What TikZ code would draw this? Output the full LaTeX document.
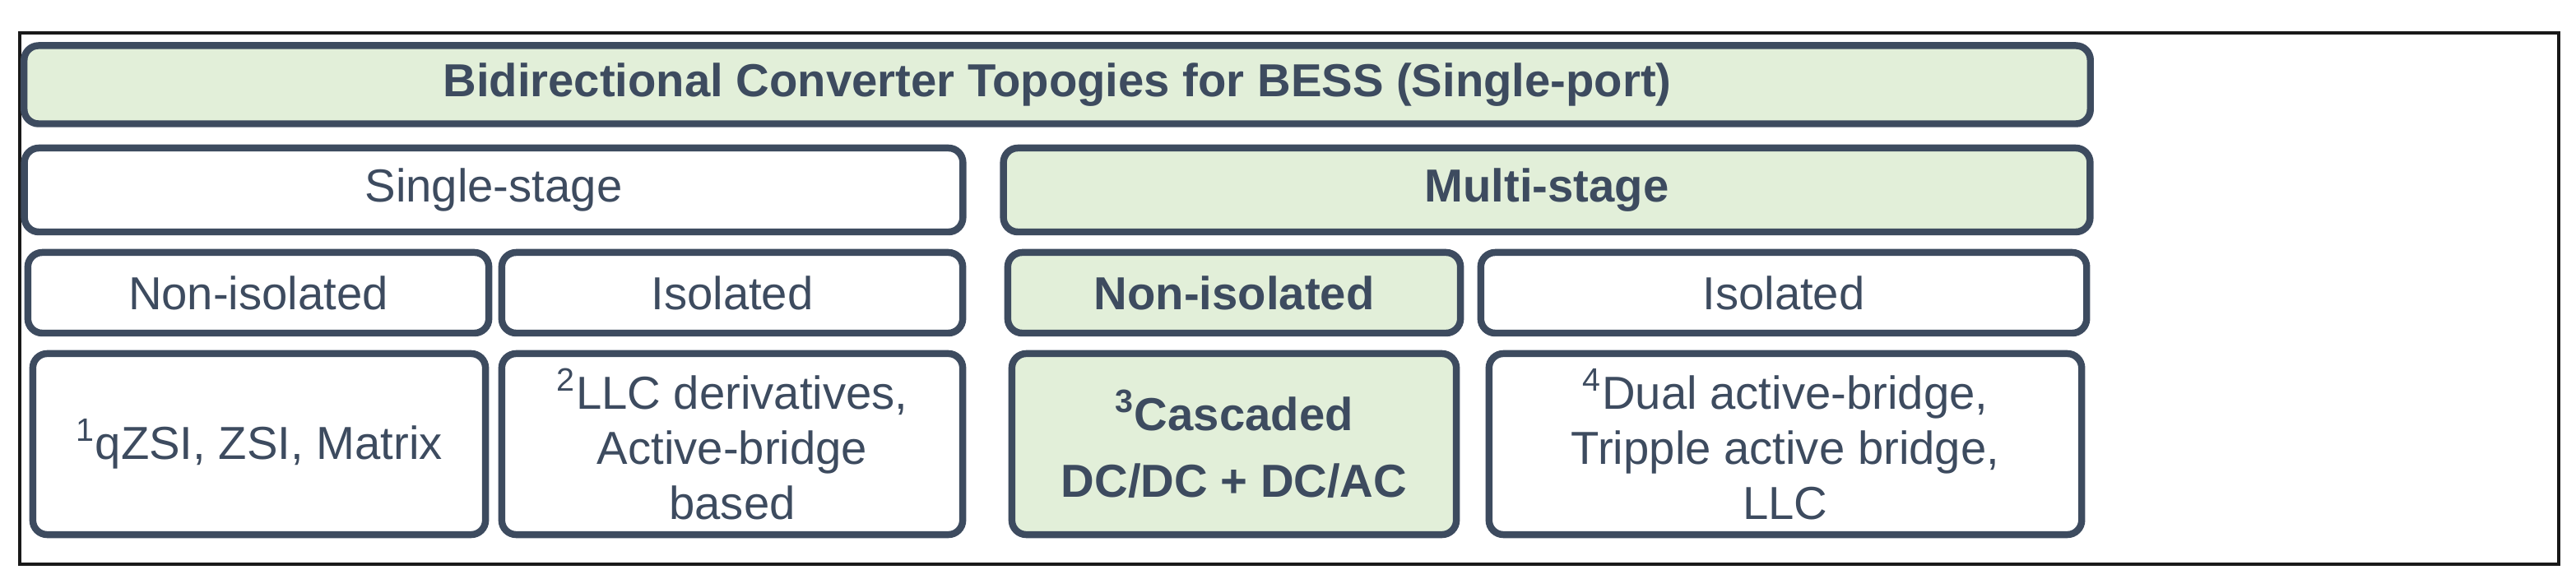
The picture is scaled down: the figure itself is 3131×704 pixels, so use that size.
\documentclass[tikz,border=0pt]{standalone}
\usepackage{fontspec}
\setmainfont{Liberation Sans}
\usetikzlibrary{positioning}
\definecolor{slate}{HTML}{3D4B5F}
\definecolor{sage}{HTML}{E2EFD9}
\begin{document}
\begin{tikzpicture}[x=0.01cm,y=-0.01cm,
        cell/.style={
            rectangle, rounded corners=5pt, draw=slate, line width=2.4pt,
            fill=white, text=slate, font=\fontsize{16}{19}\selectfont,
            align=center, inner sep=0pt
        },
        hcell/.style={cell, fill=sage, font=\fontsize{16}{19}\selectfont\bfseries},
    ]

    % ── Frame ──
    \useasboundingbox (0,0) rectangle (3131,704);
    \draw[line width=1.3pt, black!90] (24,40) rectangle (3110,686);

    % ── Title ──
    \node[hcell, minimum width=25.1cm, minimum height=0.95cm] (title) at (1285,103)
        {Bidirectional Converter Topogies for BESS (Single-port)};

    % ── Stage row ──
    \node[cell, minimum width=11.4cm, minimum height=1.02cm] (single) at (600,231) {Single-stage};
    \node[hcell, minimum width=13.2cm, minimum height=1.02cm] (multi) at (1880,231) {Multi-stage};

    % ── Isolation row ──
    \node[cell, minimum width=5.6cm, minimum height=0.98cm] (sni) at (314,356) {Non-isolated};
    \node[cell, minimum width=5.6cm, minimum height=0.98cm] (siso) at (890,356) {Isolated};
    \node[hcell, minimum width=5.5cm, minimum height=0.98cm] (mni) at (1500,356) {Non-isolated};
    \node[cell, minimum width=7.36cm, minimum height=0.98cm] (miso) at (2168,356) {Isolated};

    % ── Topology row ──
    \node[cell, minimum width=5.5cm, minimum height=2.2cm] (qzsi) at (315,540)
        {\textsuperscript{1}qZSI, ZSI, Matrix};
    \node[cell, minimum width=5.6cm, minimum height=2.2cm] (llc) at (890,540)
        {\textsuperscript{2}LLC derivatives,\\Active-bridge\\based};
    \node[hcell, minimum width=5.4cm, minimum height=2.2cm] (cascade) at (1500,540)
        {\textsuperscript{3}Cascaded\\[4pt]DC/DC + DC/AC};
    \node[cell, minimum width=7.2cm, minimum height=2.2cm] (dab) at (2170,540)
        {\textsuperscript{4}Dual active-bridge,\\Tripple active bridge,\\LLC};

\end{tikzpicture}
\end{document}
